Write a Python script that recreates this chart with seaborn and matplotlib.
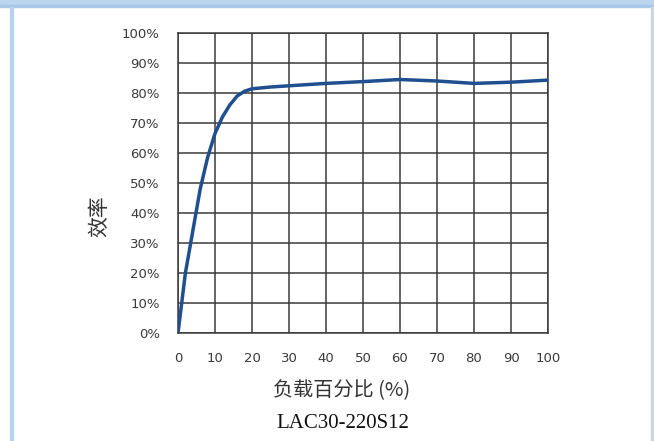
import numpy as np
import pandas as pd
import seaborn as sns
import matplotlib.pyplot as plt
from matplotlib.patches import Rectangle

# efficiency curve
load_pct = [0, 2, 4, 6, 8, 10, 12, 14, 16, 18, 20, 25, 30, 40, 50, 60, 70, 80, 90, 100]
efficiency = [0, 20, 34, 48, 58.5, 66.5, 72, 76, 79, 80.6, 81.4, 82, 82.4, 83.2, 83.8, 84.5, 84.0, 83.2, 83.6, 84.3]
x_ticks = list(range(0, 101, 10))
y_ticks = list(range(0, 101, 10))
y_tick_labels = [f"{v}%" for v in y_ticks]

df = pd.DataFrame({"load": load_pct, "eff": efficiency})

sns.set_style("white")
plt.rcParams["font.family"] = ["Noto Sans CJK SC", "DejaVu Sans"]

fig = plt.figure(figsize=(6.54, 4.41), dpi=100)
ax = fig.add_axes([178 / 654, 1 - 333 / 441, 370 / 654, 300 / 441])

grid_c = "#3a3a3a"
sns.lineplot(data=df, x="load", y="eff", ax=ax, color="#1f4f8f", linewidth=2.5, zorder=5)

ax.set_xlim(0, 100)
ax.set_ylim(0, 100)
ax.set_xticks(x_ticks)
ax.set_yticks(y_ticks)
ax.set_yticklabels(y_tick_labels)
ax.grid(True, color=grid_c, linewidth=1.1)
for s in ax.spines.values():
    s.set_visible(True)
    s.set_color(grid_c)
    s.set_linewidth(1.1)
ax.tick_params(axis="both", direction="out", colors=grid_c, width=1.1,
               labelsize=9.5, labelcolor="#3a3a3a")
ax.tick_params(axis="y", length=8.6, pad=4.5)
ax.tick_params(axis="x", length=8.6, pad=5)
for lab in ax.get_xticklabels() + ax.get_yticklabels():
    lab.set_family(["DejaVu Sans"])

ax.set_xlabel("负载百分比 (%)", fontsize=14.5, color="#333333")
ax.set_ylabel("效率", fontsize=15, color="#333333")
ax.xaxis.set_label_coords(0.443, -0.157)
ax.yaxis.set_label_coords(-0.184, 0.39)

fig.text(343 / 654, 1 - 424 / 441, "LAC30-220S12", ha="center", va="center",
         fontsize=15, color="#111111", family=["Liberation Serif", "DejaVu Serif"])

# page frame around the picture
fig.patches.append(Rectangle((0, 1 - 4 / 441), 1, 4 / 441, transform=fig.transFigure,
                             color="#bcd5ee", zorder=0))
fig.patches.append(Rectangle((0, 1 - 7 / 441), 1, 2 / 441, transform=fig.transFigure,
                             color="#a9c8e8", zorder=0))
fig.patches.append(Rectangle((10 / 654, 0), 3 / 654, 1 - 7 / 441, transform=fig.transFigure,
                             color="#b7d2ec", zorder=0))
fig.patches.append(Rectangle((651 / 654, 0), 2 / 654, 1 - 7 / 441, transform=fig.transFigure,
                             color="#c9d6e3", zorder=0))

fig.savefig("out.png", dpi=100)
